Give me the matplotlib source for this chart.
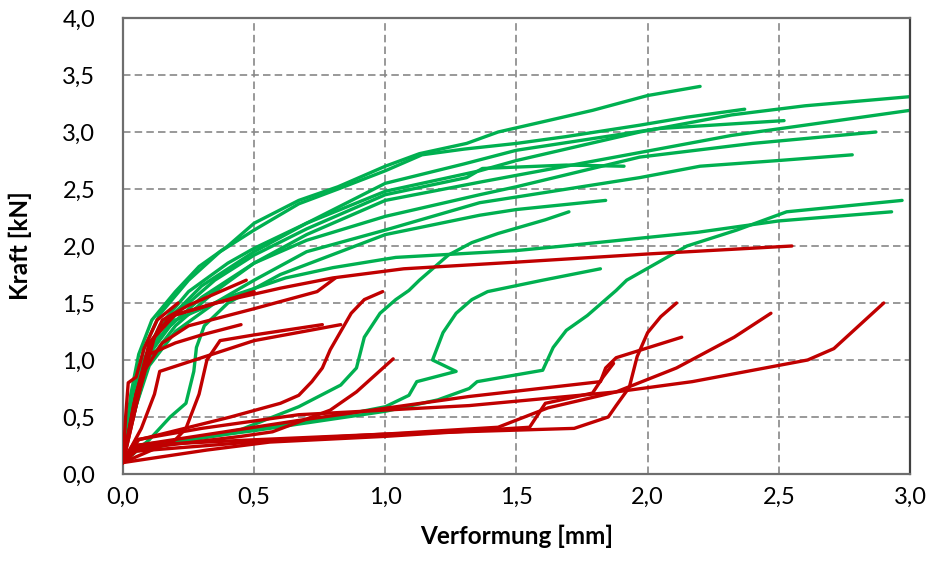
import matplotlib
matplotlib.use('Agg')
import matplotlib.pyplot as plt
from matplotlib.ticker import FuncFormatter, MultipleLocator

plt.rcParams['font.family'] = ['Lato', 'DejaVu Sans']

# Kraft-Verformungs-Kurven (x = Verformung [mm], y = Kraft [kN])
# gruene Kurven
g1 = [(0, 0.15), (0.03, 0.7), (0.06, 1.05), (0.11, 1.35), (0.2, 1.6), (0.29, 1.82), (0.4, 2.0), (0.5, 2.2),
      (0.67, 2.4), (0.82, 2.52), (1.0, 2.7), (1.13, 2.81), (1.31, 2.9), (1.43, 3.0), (1.62, 3.1), (1.79, 3.19),
      (2.0, 3.32), (2.2, 3.4)]
g2 = [(0, 0.15), (0.04, 0.7), (0.08, 1.1), (0.14, 1.4), (0.25, 1.7), (0.37, 1.95), (0.5, 2.14), (0.67, 2.37),
      (0.82, 2.5), (1.0, 2.66), (1.14, 2.8), (1.3, 2.85), (1.5, 2.9), (1.69, 2.96), (1.97, 3.06), (2.15, 3.13),
      (2.37, 3.2)]
g3 = [(0, 0.15), (0.04, 0.6), (0.08, 1.0), (0.14, 1.3), (0.25, 1.6), (0.4, 1.85), (0.5, 1.98), (0.7, 2.2),
      (1.0, 2.55), (1.3, 2.72), (1.5, 2.84), (2.04, 3.03), (2.52, 3.1)]
g4 = [(0, 0.15), (0.05, 0.7), (0.1, 1.1), (0.17, 1.35), (0.3, 1.65), (0.5, 1.95), (0.7, 2.2), (1.0, 2.48),
      (1.36, 2.66), (1.5, 2.75), (1.97, 3.0), (2.32, 3.15), (2.6, 3.23), (3.0, 3.31)]
g5 = [(0, 0.15), (0.05, 0.65), (0.1, 1.05), (0.18, 1.3), (0.3, 1.55), (0.5, 1.85), (0.7, 2.1), (1.0, 2.4),
      (1.36, 2.56), (1.5, 2.62), (1.97, 2.82), (2.32, 2.97), (2.6, 3.06), (3.0, 3.19)]
g6 = [(0, 0.15), (0.05, 0.6), (0.1, 1.0), (0.2, 1.3), (0.35, 1.6), (0.5, 1.85), (0.7, 2.05), (1.0, 2.26),
      (1.36, 2.45), (1.5, 2.52), (1.97, 2.78), (2.4, 2.9), (2.87, 3.0)]
g7 = [(0, 0.15), (0.05, 0.6), (0.1, 0.95), (0.2, 1.25), (0.35, 1.5), (0.5, 1.7), (0.7, 1.95), (1.0, 2.14),
      (1.36, 2.38), (1.5, 2.43), (1.97, 2.6), (2.2, 2.7), (2.5, 2.75), (2.78, 2.8)]
g8 = [(0, 0.15), (0.05, 0.65), (0.1, 1.05), (0.2, 1.4), (0.35, 1.7), (0.5, 1.92), (0.7, 2.15), (1.0, 2.45),
      (1.31, 2.6), (1.37, 2.68), (1.69, 2.71), (1.91, 2.7)]
g9 = [(0, 0.1), (0.1, 0.3), (0.18, 0.5), (0.24, 0.62), (0.27, 0.9), (0.28, 1.11), (0.31, 1.3), (0.4, 1.5),
      (0.6, 1.75), (1.0, 2.1), (1.36, 2.27), (1.5, 2.32), (1.84, 2.4)]
g10 = [(0, 0.1), (0.05, 0.2), (0.2, 0.27), (0.45, 0.39), (0.67, 0.59), (0.83, 0.78), (0.89, 0.93), (0.92, 1.2),
       (0.98, 1.41), (1.04, 1.53), (1.09, 1.61), (1.13, 1.7), (1.24, 1.92), (1.33, 2.03), (1.43, 2.11),
       (1.61, 2.23), (1.7, 2.3)]
g11 = [(0, 0.2), (0.05, 0.8), (0.1, 1.1), (0.2, 1.35), (0.4, 1.55), (0.62, 1.72), (0.8, 1.81), (1.04, 1.9),
       (1.5, 1.96), (1.68, 2.0), (2.19, 2.12), (2.5, 2.22), (2.93, 2.3)]
g12 = [(0, 0.12), (0.05, 0.22), (0.45, 0.37), (0.8, 0.5), (1.0, 0.59), (1.09, 0.69), (1.12, 0.81), (1.27, 0.9),
       (1.18, 1.0), (1.22, 1.24), (1.27, 1.41), (1.33, 1.53), (1.39, 1.6), (1.6, 1.7), (1.82, 1.8)]
g13 = [(0, 0.12), (0.05, 0.25), (0.5, 0.38), (1.0, 0.55), (1.2, 0.65), (1.32, 0.75), (1.35, 0.81), (1.6, 0.91),
       (1.64, 1.11), (1.69, 1.26), (1.77, 1.39), (1.88, 1.61), (1.92, 1.7), (2.15, 2.0), (2.34, 2.14),
       (2.53, 2.3), (2.97, 2.4)]

# rote Kurven
r1 = [(0, 0.1), (0.04, 0.6), (0.1, 1.15), (0.18, 1.38), (0.35, 1.5), (0.6, 1.63), (0.8, 1.72), (1.07, 1.8),
      (1.51, 1.86), (2.0, 1.93), (2.55, 2.0)]
r2 = [(0, 0.1), (0.05, 0.7), (0.1, 1.1), (0.15, 1.35), (0.25, 1.48), (0.35, 1.58), (0.47, 1.7)]
r3 = [(0, 0.1), (0.06, 0.7), (0.12, 1.2), (0.2, 1.4), (0.3, 1.46), (0.5, 1.6)]
r4 = [(0, 0.1), (0.08, 0.9), (0.15, 1.15), (0.25, 1.3), (0.5, 1.45), (0.74, 1.6), (0.81, 1.72)]
r5 = [(0, 0.1), (0.05, 0.7), (0.1, 1.05), (0.2, 1.15), (0.3, 1.22), (0.45, 1.31)]
r6 = [(0, 0.1), (0.2, 0.3), (0.24, 0.4), (0.29, 0.7), (0.32, 1.0), (0.37, 1.17), (0.5, 1.22), (0.76, 1.31)]
r7 = [(0, 0.1), (0.07, 0.4), (0.12, 0.7), (0.14, 0.9), (0.5, 1.17), (0.83, 1.31)]
r8 = [(0, 0.1), (0.01, 0.5), (0.02, 0.8), (0.05, 0.85), (0.08, 1.1), (0.13, 1.35), (0.21, 1.5)]
r9 = [(0, 0.1), (0.06, 0.3), (0.41, 0.5), (0.6, 0.62), (0.67, 0.69), (0.72, 0.81), (0.76, 0.93), (0.79, 1.09),
      (0.83, 1.25), (0.87, 1.41), (0.92, 1.53), (0.99, 1.6)]
r10 = [(0, 0.1), (0.05, 0.22), (0.45, 0.33), (0.57, 0.37), (0.79, 0.56), (0.89, 0.72), (1.03, 1.01)]
r11 = [(0, 0.12), (0.05, 0.25), (0.67, 0.47), (1.32, 0.68), (1.82, 0.81), (1.84, 0.93), (1.88, 1.02), (2.13, 1.2)]
r12 = [(0, 0.12), (0.05, 0.3), (0.3, 0.4), (0.67, 0.52), (1.32, 0.6), (1.88, 0.72), (2.11, 0.93), (2.33, 1.2),
       (2.47, 1.41)]
r13 = [(0, 0.1), (0.05, 0.2), (0.6, 0.3), (1.0, 0.35), (1.43, 0.41), (1.62, 0.58), (1.88, 0.72), (2.17, 0.81),
       (2.61, 1.0), (2.71, 1.1), (2.9, 1.5)]
r14 = [(0, 0.1), (0.05, 0.25), (0.5, 0.3), (1.0, 0.35), (1.72, 0.4), (1.85, 0.5), (1.88, 0.6), (1.93, 0.76),
       (1.96, 1.03), (2.0, 1.24), (2.05, 1.38), (2.11, 1.5)]
r15 = [(0, 0.1), (0.32, 0.21), (0.56, 0.28), (1.0, 0.33), (1.55, 0.41), (1.61, 0.62), (1.79, 0.71),
       (1.83, 0.85), (1.87, 0.97)]

gruen = [g1, g2, g3, g4, g5, g6, g7, g8, g9, g10, g11, g12, g13]
rot = [r1, r2, r3, r4, r5, r6, r7, r8, r9, r10, r11, r12, r13, r14, r15]

fig = plt.figure(figsize=(9.31, 5.65), dpi=100)
ax = fig.add_axes([0.1321, 0.1611, 0.8453, 0.8070])

for kurve in gruen:
    ax.plot([p[0] for p in kurve], [p[1] for p in kurve], color='#00B050', lw=2.4, solid_joinstyle='round',
            solid_capstyle='round', zorder=2)
for kurve in rot:
    ax.plot([p[0] for p in kurve], [p[1] for p in kurve], color='#C00000', lw=2.4, solid_joinstyle='round',
            solid_capstyle='round', zorder=3)

ax.set_xlim(0, 3)
ax.set_ylim(0, 4)
ax.xaxis.set_major_locator(MultipleLocator(0.5))
ax.yaxis.set_major_locator(MultipleLocator(0.5))
komma = FuncFormatter(lambda v, pos: f'{v:.1f}'.replace('.', ','))
ax.xaxis.set_major_formatter(komma)
ax.yaxis.set_major_formatter(komma)

ax.grid(True, color='#888888', linestyle=(0, (4.5, 2.5)), lw=1.2, zorder=1)
for s in ax.spines.values():
    s.set_color('#6e6e6e')
    s.set_linewidth(1.6)
ax.spines['right'].set_color('#404040')

ax.tick_params(axis='both', direction='in', length=0, labelsize=17, colors='#000000')
ax.tick_params(axis='y', pad=20)
ax.tick_params(axis='x', pad=9)

ax.set_xlabel('Verformung [mm]', fontsize=17.5, fontweight='bold', labelpad=12)
ax.set_ylabel('Kraft [kN]', fontsize=17.5, fontweight='bold', labelpad=22)

fig.savefig('out.png', dpi=100)
